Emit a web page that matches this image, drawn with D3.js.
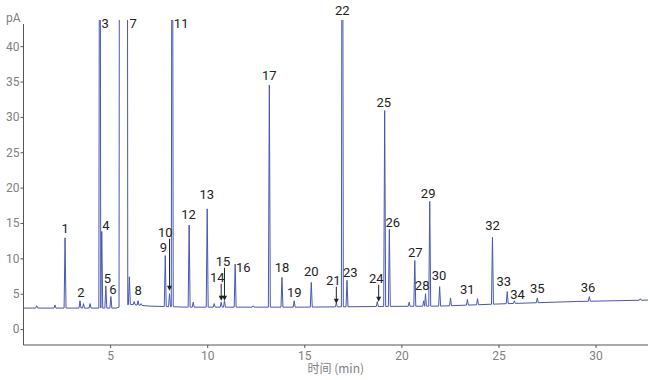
<!DOCTYPE html>
<html><head><meta charset="utf-8">
<script src="https://cdn.jsdelivr.net/npm/d3@7/dist/d3.min.js"></script>
<style>
body{margin:0;background:#fff;}
svg{display:block;}
</style></head>
<body>
<svg id="c" width="650" height="380"></svg>
<script>
// ---------- data ----------
// retention times (min) and apex heights (pA) of every visible peak
const peakTimes   = [1.22, 2.16, 2.68, 3.45, 3.63, 3.97, 4.47, 4.57, 4.78, 5.04, 5.99, 6.24, 6.44, 6.60, 7.84, 8.06, 8.20, 9.07, 9.28, 10.00, 10.36, 10.72, 10.89, 11.44, 12.37, 13.20, 13.85, 14.48, 15.36, 16.65, 16.96, 17.20, 18.76, 19.14, 19.38, 20.40, 20.69, 21.15, 21.24, 21.46, 21.97, 22.53, 23.40, 23.92, 24.69, 25.45, 25.82, 27.00, 29.68, 32.30];
const peakHeights = [3.3, 3.4, 12.9, 4.0, 3.6, 3.6, 100, 13.8, 6.1, 4.6, 7.4, 3.9, 4.0, 3.6, 10.4, 5.0, 100, 14.7, 3.8, 17.0, 3.6, 3.8, 4.0, 9.2, 3.3, 34.5, 7.3, 4.0, 6.6, 3.7, 100, 6.9, 3.9, 30.9, 14.1, 3.8, 9.7, 4.0, 5.0, 18.05, 6.0, 4.4, 4.2, 4.3, 13.0, 5.3, 4.0, 4.4, 4.6, 4.3];
// broad off-scale solvent peak (start, end) in min
const solventStart = 5.49, solventEnd = 5.88, solventHeight = 100;
// baseline knots
const baseTimes  = [0.54, 5.30, 6.00, 7.00, 9.00, 15.00, 19.00, 22.00, 25.50, 29.00, 32.70];
const baseValues = [2.97, 2.97, 3.50, 3.25, 3.10, 3.10, 3.20, 3.25, 3.60, 3.90, 4.10];
// peak labels: text, time, value of text baseline
const labelTexts  = ["1","2","3","4","5","6","7","8","9","10","11","12","13","14","15","16","17","18","19","20","21","22","23","24","25","26","27","28","29","30","31","32","33","34","35","36"];
const labelTimes  = [2.68, 3.49, 4.74, 4.78, 4.86, 5.14, 6.19, 6.44, 7.75, 7.84, 8.66, 9.04, 9.98, 10.52, 10.82, 11.86, 13.20, 13.85, 14.48, 15.36, 16.49, 16.96, 17.37, 18.71, 19.09, 19.56, 20.72, 21.07, 21.38, 21.94, 23.39, 24.69, 25.27, 25.98, 27.00, 29.61];
const labelValues = [13.62, 4.57, 42.6, 14.05, 6.55, 4.99, 42.6, 4.85, 10.93, 13.05, 42.5, 15.6, 18.43, 6.69, 8.95, 8.1, 35.26, 8.1, 4.57, 7.54, 6.27, 44.46, 7.4, 6.55, 31.44, 14.47, 10.23, 5.56, 18.6, 6.97, 4.99, 14.05, 6.12, 4.29, 5.13, 5.28];
// arrows: time, from value, to value
const arrowTimes = [8.06, 10.72, 10.89, 16.65, 18.83];
const arrowFrom  = [12.77, 6.4, 8.67, 5.98, 6.27];
const arrowTo    = [5.42, 4.0, 4.0, 3.58, 3.86];
// axes
const xTicks = [5, 10, 15, 20, 25, 30];
const yTicks = [0, 5, 10, 15, 20, 25, 30, 35, 40];
const xTitle = "时间 (min)";
const yTitle = "pA";

// ---------- drawing ----------
const svg = d3.select("#c");
const L = 23.5, R = 648, T = 20, B = 345;
const x = d3.scaleLinear().domain([0.54, 32.7]).range([L, R]);
const y = d3.scaleLinear().domain([-2.25, 43.7]).range([B, T]);
const base = d3.scaleLinear().domain(baseTimes).range(baseValues);

const hw = 0.05;
let pts = [];
const windows = [];
peakTimes.forEach((t, i) => {
  pts.push([t - hw, base(t - hw)], [t, peakHeights[i]], [t + hw, base(t + hw)]);
  windows.push([t - hw, t + hw]);
});
pts.push([solventStart - 0.03, base(solventStart - 0.03)], [solventStart, solventHeight],
         [solventEnd, solventHeight], [solventEnd + 0.03, base(solventEnd + 0.03)]);
windows.push([solventStart - 0.03, solventEnd + 0.03]);
baseTimes.forEach((t, i) => {
  if (!windows.some(w => t >= w[0] && t <= w[1])) pts.push([t, baseValues[i]]);
});
pts.sort((a, b) => a[0] - b[0]);

svg.append("clipPath").attr("id", "clip").append("rect")
  .attr("x", L).attr("y", T).attr("width", R - L).attr("height", B - T);

svg.append("path").datum(pts)
  .attr("clip-path", "url(#clip)")
  .attr("fill", "none").attr("stroke", "#4757b3").attr("stroke-width", 1)
  .attr("stroke-linejoin", "round")
  .attr("d", d3.line().x(d => x(d[0])).y(d => y(d[1])));

// axes
const axisColor = "#555";
const gx = svg.append("g").attr("transform", `translate(0,${B})`)
  .call(d3.axisBottom(x).tickValues(xTicks).tickSize(3).tickPadding(3).tickFormat(d3.format("d")));
const gy = svg.append("g").attr("transform", `translate(${L},0)`)
  .call(d3.axisLeft(y).tickValues(yTicks).tickSize(3).tickPadding(1).tickFormat(d3.format("d")));
[gx, gy].forEach(g => {
  g.select(".domain").remove();
  g.selectAll(".tick line").attr("stroke", axisColor);
  g.selectAll(".tick text").attr("fill", "#808080").attr("font-family", "Roboto, sans-serif").attr("font-size", 12);
});
svg.append("line").attr("x1", L).attr("x2", L).attr("y1", 24).attr("y2", B).attr("stroke", axisColor);
svg.append("line").attr("x1", L).attr("x2", R).attr("y1", B).attr("y2", B).attr("stroke", axisColor);

svg.append("text").attr("x", 6).attr("y", 22).text(yTitle)
  .attr("fill", "#808080").attr("font-family", "Roboto, sans-serif").attr("font-size", 12);
svg.append("text").attr("x", (L + R) / 2 + 0).attr("y", 373).attr("text-anchor", "middle").text(xTitle)
  .attr("fill", "#808080").attr("font-family", "'Noto Sans CJK SC', Roboto, sans-serif").attr("font-size", 12);

// peak labels
svg.append("g").selectAll("text").data(labelTexts).join("text")
  .attr("x", (d, i) => x(labelTimes[i])).attr("y", (d, i) => y(labelValues[i]))
  .attr("text-anchor", "middle")
  .attr("fill", "#222").attr("font-family", "Roboto, sans-serif").attr("font-size", 13)
  .text(d => d);

// arrows
const ag = svg.append("g");
arrowTimes.forEach((t, i) => {
  const ax = x(t), y1 = y(arrowFrom[i]), y2 = y(arrowTo[i]);
  ag.append("line").attr("x1", ax).attr("x2", ax).attr("y1", y1).attr("y2", y2 - 4)
    .attr("stroke", "#222").attr("stroke-width", 1);
  ag.append("path").attr("d", `M${ax - 2.5},${y2 - 5}L${ax + 2.5},${y2 - 5}L${ax},${y2}Z`).attr("fill", "#222");
});
</script>
</body></html>
